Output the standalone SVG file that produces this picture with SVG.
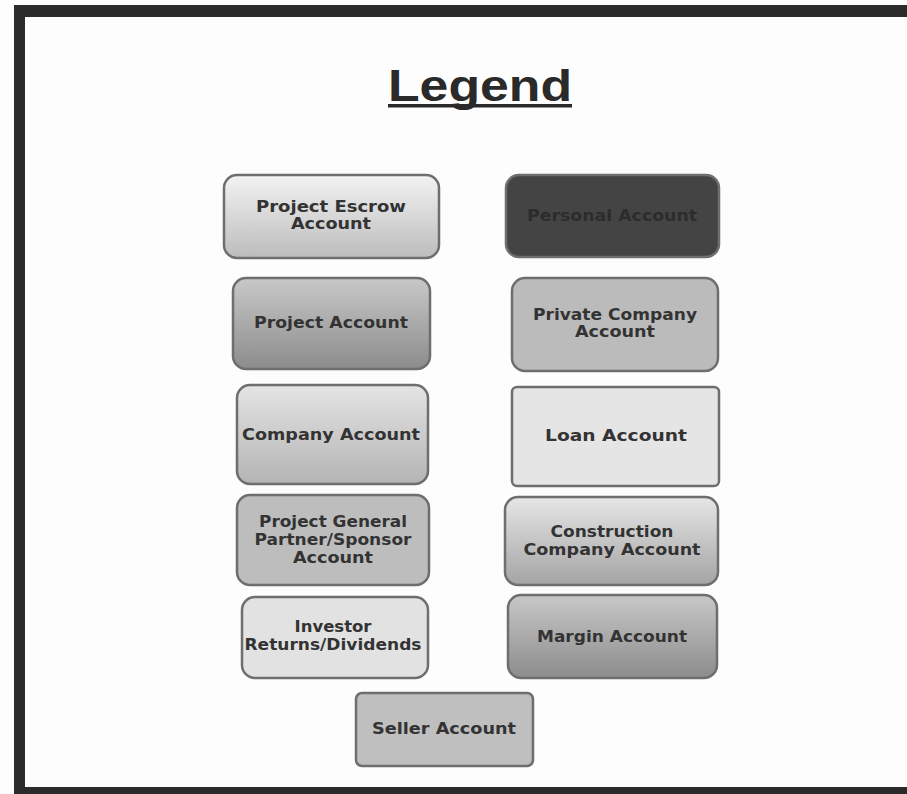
<svg xmlns="http://www.w3.org/2000/svg" width="907" height="794" viewBox="0 0 907 794">
<defs>
<linearGradient id="gLight" x1="0" y1="0" x2="0" y2="1"><stop offset="0" stop-color="#f3f3f3"/><stop offset="1" stop-color="#bcbcbc"/></linearGradient>
<linearGradient id="gMid" x1="0" y1="0" x2="0" y2="1"><stop offset="0" stop-color="#c8c8c8"/><stop offset="1" stop-color="#8c8c8c"/></linearGradient>
<linearGradient id="gComp" x1="0" y1="0" x2="0" y2="1"><stop offset="0" stop-color="#e4e4e4"/><stop offset="1" stop-color="#b4b4b4"/></linearGradient>
<linearGradient id="gCons" x1="0" y1="0" x2="0" y2="1"><stop offset="0" stop-color="#e6e6e6"/><stop offset="1" stop-color="#a4a4a4"/></linearGradient>
</defs>
<style>
.box{stroke:#6e6e6e;stroke-width:2.5}
.t{font-family:"DejaVu Sans",Verdana,sans-serif;font-weight:bold;font-size:15px;fill:#333;text-anchor:middle}
.title{font-family:"Liberation Sans",Arial,sans-serif;font-weight:bold;font-size:44px;fill:#2a2a2a;text-anchor:middle}
</style>
<rect x="0" y="0" width="907" height="794" fill="#fdfdfd"/>
<g id="frame" fill="#2b2b2b">
<rect x="14" y="5" width="893" height="12"/>
<rect x="14" y="5" width="11" height="789"/>
<rect x="14" y="787" width="893" height="7"/>
</g>
<g id="title">
<text class="title" x="480" y="101" textLength="184" lengthAdjust="spacingAndGlyphs">Legend</text>
<rect x="388" y="104" width="184" height="3.5" fill="#2a2a2a"/>
</g>
<g id="escrow"><rect class="box" x="224" y="175" width="215" height="83" rx="13" fill="url(#gLight)"/><text class="t" x="331" y="212" textLength="150" lengthAdjust="spacingAndGlyphs">Project Escrow</text><text class="t" x="331" y="229" textLength="80" lengthAdjust="spacingAndGlyphs">Account</text></g>
<g id="personal"><rect class="box" x="506" y="175" width="213" height="82" rx="13" fill="#444" stroke="#555"/><text class="t" x="612" y="221" textLength="170" lengthAdjust="spacingAndGlyphs" style="fill:#2c2c2c">Personal Account</text></g>
<g id="project"><rect class="box" x="233" y="278" width="197" height="91" rx="13" fill="url(#gMid)"/><text class="t" x="331" y="328" textLength="154" lengthAdjust="spacingAndGlyphs">Project Account</text></g>
<g id="private"><rect class="box" x="512" y="278" width="206" height="93" rx="13" fill="#bbb"/><text class="t" x="615" y="320" textLength="164" lengthAdjust="spacingAndGlyphs">Private Company</text><text class="t" x="615" y="337" textLength="80" lengthAdjust="spacingAndGlyphs">Account</text></g>
<g id="company"><rect class="box" x="237" y="385" width="191" height="99" rx="13" fill="url(#gComp)"/><text class="t" x="331" y="440" textLength="178" lengthAdjust="spacingAndGlyphs">Company Account</text></g>
<g id="loan"><rect class="box" x="512" y="387" width="207" height="99" rx="5" fill="#e5e5e5"/><text class="t" x="616" y="441" textLength="142" lengthAdjust="spacingAndGlyphs">Loan Account</text></g>
<g id="sponsor"><rect class="box" x="237" y="495" width="192" height="90" rx="13" fill="#bdbdbd"/><text class="t" x="333" y="527" textLength="148" lengthAdjust="spacingAndGlyphs">Project General</text><text class="t" x="333" y="545" textLength="157" lengthAdjust="spacingAndGlyphs">Partner/Sponsor</text><text class="t" x="333" y="563" textLength="80" lengthAdjust="spacingAndGlyphs">Account</text></g>
<g id="construction"><rect class="box" x="505" y="497" width="213" height="88" rx="13" fill="url(#gCons)"/><text class="t" x="612" y="537" textLength="123" lengthAdjust="spacingAndGlyphs">Construction</text><text class="t" x="612" y="555" textLength="177" lengthAdjust="spacingAndGlyphs">Company Account</text></g>
<g id="investor"><rect class="box" x="242" y="597" width="186" height="81" rx="13" fill="#e2e2e2"/><text class="t" x="333" y="632" textLength="77" lengthAdjust="spacingAndGlyphs">Investor</text><text class="t" x="333" y="650" textLength="177" lengthAdjust="spacingAndGlyphs">Returns/Dividends</text></g>
<g id="margin"><rect class="box" x="508" y="595" width="209" height="83" rx="13" fill="url(#gMid)"/><text class="t" x="612" y="642" textLength="150" lengthAdjust="spacingAndGlyphs">Margin Account</text></g>
<g id="seller"><rect class="box" x="356" y="693" width="177" height="73" rx="6" fill="#bfbfbf"/><text class="t" x="444" y="734" textLength="144" lengthAdjust="spacingAndGlyphs">Seller Account</text></g>
<g id="connectors"></g>
</svg>
